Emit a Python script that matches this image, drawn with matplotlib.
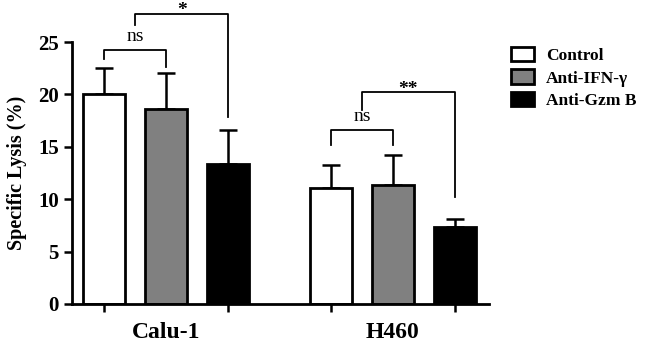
import matplotlib
matplotlib.use("Agg")

import numpy as np
from matplotlib import pyplot as plt

plt.rcParams['font.family'] = ['Liberation Serif', 'DejaVu Serif']

groups = ['Calu-1', 'H460']
conditions = ['Control', 'Anti-IFN-\u03b3', 'Anti-Gzm B']
colors = ['white', '#808080', 'black']

means = {
    'Control': [20.0, 11.05],
    'Anti-IFN-\u03b3': [18.65, 11.35],
    'Anti-Gzm B': [13.4, 7.3],
}
errs = {
    'Control': [2.55, 2.2],
    'Anti-IFN-\u03b3': [3.4, 2.85],
    'Anti-Gzm B': [3.25, 0.85],
}

# brackets: (group, cond a, cond b, height, drop a, drop b, label)
brackets = [
    (0, 0, 1, 24.2, 23.4, 22.6, 'ns'),
    (0, 0.5, 2, 27.7, 26.6, 17.8, '*'),
    (1, 0, 1, 16.6, 15.2, 15.2, 'ns'),
    (1, 0.5, 2, 20.2, 18.5, 10.2, '**'),
]

group_x = np.array([0.0, 3.66])
offsets = [-1, 0, 1]
width = 0.68

fig = plt.figure(figsize=(6.45, 3.44), dpi=100)
ax = fig.add_axes([0.1116, 0.1163, 0.6465, 0.7616])

for i, cond in enumerate(conditions):
    xs = group_x + offsets[i]
    ax.bar(xs, means[cond], width, color=colors[i], edgecolor='black',
           linewidth=2, label=cond, zorder=2)
    ax.errorbar(xs, means[cond], yerr=[np.zeros(2), errs[cond]], fmt='none',
                ecolor='black', elinewidth=1.8, capsize=6.5, capthick=1.8, zorder=1)

for g, a, b, h, da, db, lab in brackets:
    xa = group_x[g] + offsets[0] + a
    xb = group_x[g] + offsets[0] + b
    ax.plot([xa, xa, xb, xb], [da, h, h, db], color='black', lw=1.3,
            clip_on=False)
    if '*' in lab:
        ax.text((xa + xb) / 2, h + 0.3, lab, ha='center', va='center',
                fontsize=14, fontweight='bold', clip_on=False)
    else:
        ax.text((xa + xb) / 2, h + 1.3, lab, ha='center', va='center',
                fontsize=14, clip_on=False)

ax.set_xlim(-1.52, 5.21)
ax.set_ylim(0, 25)
ax.set_yticks([0, 5, 10, 15, 20, 25])
ax.set_xticks(group_x)
ax.set_xticklabels(groups, fontsize=17, fontweight='bold')
ax.xaxis.set_tick_params(pad=13)
for lbl in ax.get_yticklabels():
    lbl.set_fontsize(15)
    lbl.set_fontweight('bold')
ax.set_ylabel('Specific Lysis (%)', fontsize=14.5, fontweight='bold', labelpad=8)

# x ticks at each bar centre, labels at group centre
minor = np.concatenate([group_x + o for o in offsets])
ax.set_xticks(minor, minor=True)
ax.tick_params(axis='x', which='major', length=0)
ax.tick_params(axis='x', which='minor', length=6, width=1.8)
ax.tick_params(axis='y', length=6, width=1.8)

ax.spines['top'].set_visible(False)
ax.spines['right'].set_visible(False)
ax.spines['left'].set_linewidth(2)
ax.spines['bottom'].set_linewidth(2)

leg = ax.legend(loc='upper left', bbox_to_anchor=(0.768, 0.91),
                bbox_transform=fig.transFigure, frameon=False,
                prop={'size': 12.5, 'weight': 'bold'}, handlelength=1.3,
                handleheight=0.9, handletextpad=0.7, labelspacing=0.32)

fig.savefig('out.png', dpi=100)
